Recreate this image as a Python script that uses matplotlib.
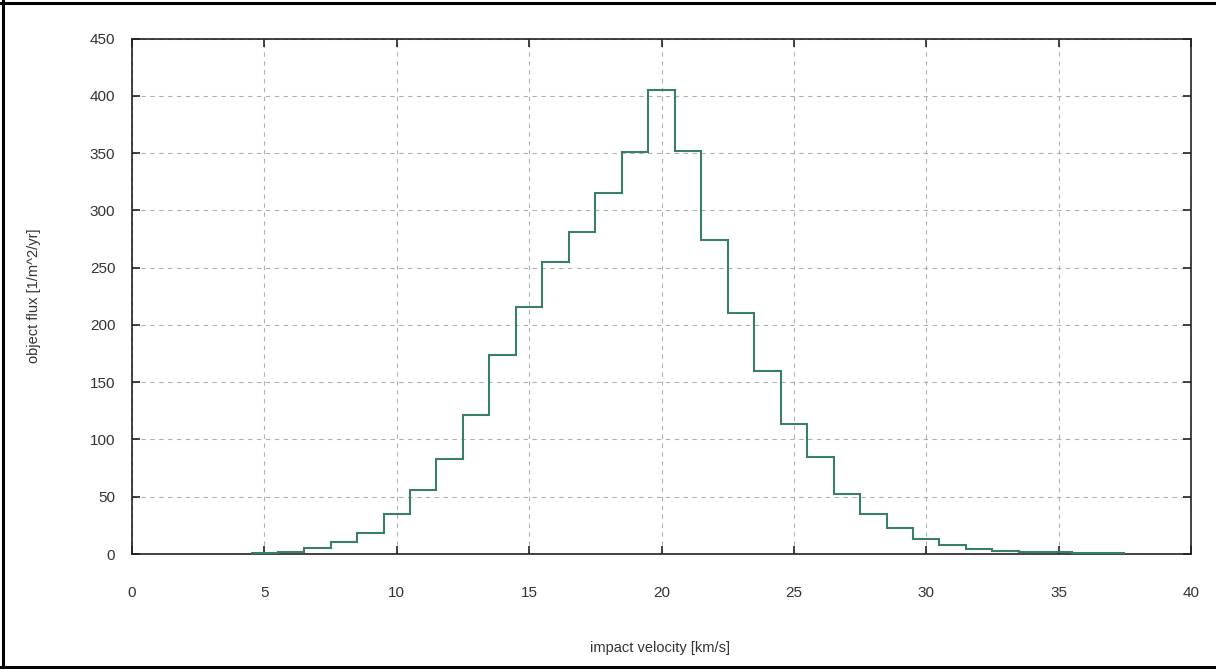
import numpy as np
import matplotlib
matplotlib.use("Agg")
import matplotlib.pyplot as plt
from matplotlib.lines import Line2D
from matplotlib import font_manager

# bin centres (km/s) and flux values
velocity = [5, 6, 7, 8, 9, 10, 11, 12, 13, 14, 15, 16, 17, 18, 19, 20, 21,
            22, 23, 24, 25, 26, 27, 28, 29, 30, 31, 32, 33, 34, 35, 36, 37]
flux = [0.8, 2.0, 5.2, 10.2, 18.0, 34.5, 56.0, 82.5, 121.5, 173.5, 215.7, 255.3,
        281.0, 315.0, 350.5, 405.0, 351.4, 274.5, 210.0, 159.5, 113.3, 84.7,
        52.4, 35.0, 22.4, 13.0, 7.6, 4.2, 2.7, 1.8, 1.5, 0.7, 0.5]
xticks = [0, 5, 10, 15, 20, 25, 30, 35, 40]
yticks = [0, 50, 100, 150, 200, 250, 300, 350, 400, 450]

names = {f.name for f in font_manager.fontManager.ttflist}
fam = "Liberation Sans Narrow" if "Liberation Sans Narrow" in names else "Liberation Sans"
plt.rcParams["font.family"] = [fam, "DejaVu Sans"]

fig = plt.figure(figsize=(12.16, 6.69), dpi=100)
ax = fig.add_axes([132/1216, 1-554/669, (1191-132)/1216, (554-38.5)/669])

edges = np.append(np.array(velocity) - 0.5, velocity[-1] + 0.5)
ax.stairs(flux, edges, color="#3b7d6c", linewidth=1.5, baseline=None, zorder=3)

ax.set_xlim(0, 40)
ax.set_ylim(0, 450)
ax.set_xticks(xticks)
ax.set_yticks(yticks)
ax.grid(True, color="#b0b0b0", linestyle=(0, (4, 4)), linewidth=0.8)
for s in ax.spines.values():
    s.set_linewidth(1.2)
    s.set_color("#222222")
ax.tick_params(direction="in", length=6, width=1.2, top=True, right=True,
               labelsize=11, colors="#222222")
ax.tick_params(axis="x", pad=23)
ax.tick_params(axis="y", pad=12)
for lab in ax.get_xticklabels() + ax.get_yticklabels():
    lab.set_color("#333333")

fig.text(660/1216, 1-648/669, "impact velocity [km/s]", ha="center", va="center",
         fontsize=10.5, color="#333333")
fig.text(34/1216, 1-296/669, "object flux [1/m^2/yr]", ha="center", va="center",
         rotation=90, fontsize=10.5, color="#333333")

# figure border (left, top, bottom)
for xs, ys in [([3/1216, 3/1216], [0, 1]), ([0, 1], [1-3/669, 1-3/669]),
               ([0, 1], [2/669, 2/669])]:
    fig.add_artist(Line2D(xs, ys, color="black", linewidth=2.2, transform=fig.transFigure))

fig.savefig("out.png", dpi=100, facecolor="white")
